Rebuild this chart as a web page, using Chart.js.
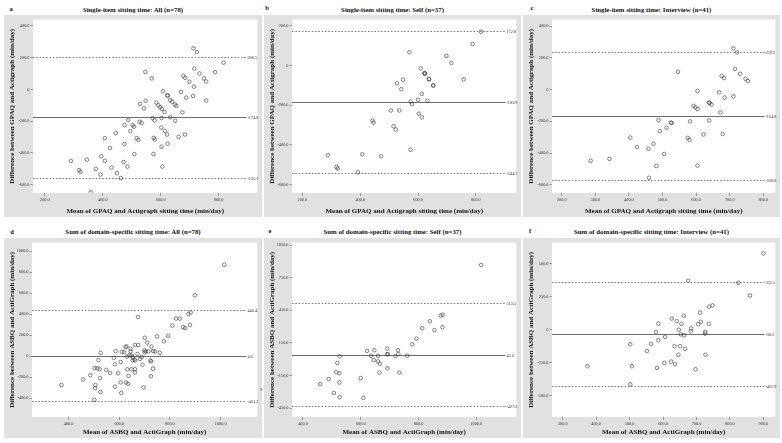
<!DOCTYPE html>
<html>
<head>
<meta charset="utf-8">
<script src="https://cdn.jsdelivr.net/npm/chart.js@4.4.1/dist/chart.umd.min.js"></script>
<style>
  html, body { margin: 0; padding: 0; background: #fff; }
  body { width: 782px; height: 443px; position: relative; overflow: hidden; font-family: "Liberation Serif", serif; color: #111; }
  .title { position: absolute; font-weight: bold; font-size: 6.8px; white-space: nowrap; transform: translate(-50%, -50%); }
  .letter { position: absolute; font-weight: bold; font-size: 6.5px; transform: translate(-50%, -50%); }
  canvas { position: absolute; }
</style>
</head>
<body>
<script>
// Titel och axeltexter
const titles = [
  'Single-item sitting time: All (n=78)',
  'Single-item sitting time: Self (n=37)',
  'Single-item sitting time: Interview (n=41)',
  'Sum of domain-specific sitting time: All (n=78)',
  'Sum of domain-specific sitting time: Self (n=37)',
  'Sum of domain-specific sitting time: Interview (n=41)'
];
const letters = ['a', 'b', 'c', 'd', 'e', 'f'];
const gpaqXTitle = 'Mean of GPAQ and Actigraph sitting time (min/day)';
const gpaqYTitle = 'Difference between GPAQ and Actigraph (min/day)';
const asbqXTitle = 'Mean of ASBQ and ActiGraph (min/day)';
const asbqYTitle = 'Difference between ASBQ and ActiGraph (min/day)';

// Skalstreck
const abXTicks = [200, 400, 600, 800];
const cXTicks = [200, 300, 400, 500, 600, 700, 800];
const deXTicks = [400, 600, 800, 1000];
const fXTicks = [300, 400, 500, 600, 700, 800, 900];
const acYTicks = [400, 200, 0, -200, -400, -600];
const bYTicks = [200, 0, -200, -400, -600];
const dYTicks = [1000, 800, 600, 400, 200, 0, -200, -400];
const eYTicks = [1050, 750, 450, 150, -150, -450];
const fYTicks = [500, 250, 0, -250, -500];

// Medelvärde (övre gräns, medel, undre gräns)
const aLines = [206.5, -174.8, -556.1];
const bLines = [172.8, -183.9, -544.7];
const cLines = [239.2, -164.8, -568.8];
const dLines = [440.4, 4.6, -431.2];
const eLines = [513.5, 43.2, -427.2];
const fLines = [365.5, -30.2, -425.9];

// a: GPAQ, alla
const aMean = [713, 725, 817, 547, 569, 716, 734, 788, 678, 685, 699, 715, 749, 757, 608, 623, 624, 670, 712, 688,
  757, 633, 640, 649, 654, 548, 529, 585, 592, 598, 604, 542,
  675, 613, 488, 527, 603, 572, 579, 633, 650, 475, 503, 508, 495, 534, 602, 614, 622, 576, 580, 517,
  523, 445, 407, 662, 684, 603, 624, 475, 425, 509, 575, 395, 407, 290, 345, 472, 485, 606, 430, 376,
  318, 323, 392, 449, 462, 358];
const aDiff = [258, 235, 168, 110, 69, 131, 100, 108, 86, 73, 48, 17, 69, 50, -12, -37, -40, -16, -41, -52,
  -70, -68, -78, -95, -104, -72, -91, -83, -100, -112, -123, -120,
  -145, -143, -193, -204, -180, -182, -195, -176, -197, -224, -226, -235, -263, -211, -240, -261, -284, -305, -315, -307,
  -318, -276, -307, -299, -284, -361, -342, -344, -369, -407, -407, -421, -450, -450, -442, -457, -486, -486, -492, -500,
  -508, -519, -536, -527, -558, -648];

// b: GPAQ, själv
const bMean = [818, 789, 570, 698, 715, 609, 623, 624, 637, 638, 652, 653, 758, 548, 527, 542, 613, 574, 579, 600,
  632, 506, 535, 603, 613, 442, 446, 515, 523, 574, 288, 407, 472, 318, 322, 392, 622];
const bDiff = [170, 108, 66, 48, 13, -15, -40, -42, -68, -70, -100, -102, -70, -72, -90, -120, -143, -182, -195, -173,
  -178, -227, -227, -243, -262, -278, -288, -307, -323, -425, -452, -448, -458, -512, -520, -538, -38];

// c: GPAQ, intervju
const cMean = [711, 722, 716, 731, 546, 676, 683, 747, 754, 604, 669, 685, 711, 638, 640, 646, 592, 598, 604, 672,
  488, 582, 639, 525, 527, 512, 492, 622, 679, 404, 575, 580, 473, 424, 458, 505, 286, 342, 482, 604, 460];
const cDiff = [260, 235, 131, 100, 112, 87, 73, 69, 54, -8, -17, -50, -42, -81, -84, -94, -102, -112, -123, -144,
  -192, -200, -194, -208, -210, -240, -262, -283, -279, -302, -304, -317, -342, -362, -373, -406, -448, -437, -481, -479, -556];

// d: ASBQ, alla
const dMean = [1014, 898, 674, 824, 839, 873, 882, 810, 852, 860, 879, 793, 776, 749, 701, 710, 675, 727, 625, 629,
  662, 586, 645, 645, 700, 705, 715, 734, 741, 760, 527, 518, 579, 647, 653, 660, 663, 630, 640, 689,
  723, 726, 692, 606, 583, 503, 514, 523, 486, 458, 549, 564, 596, 632, 648, 662, 662, 637, 733, 725,
  524, 583, 606, 627, 634, 372, 506, 505, 526, 608, 696, 502, 620, 672, 700, 653, 610, 682];
const dDiff = [870, 579, 372, 357, 357, 401, 416, 291, 275, 266, 297, 194, 141, 188, 175, 128, 106, 91, 88, 91,
  106, 47, 70, 45, 55, 45, 45, 48, 44, 31, 31, -38, -16, 6, -9, -31, -41, -5, 10, -9,
  -41, -50, -81, -56, -78, -113, -116, -125, -181, -222, -131, -160, -163, -125, -125, -125, -155, -188, -119, -191,
  -210, -291, -250, -250, -263, -275, -275, -305, -341, -350, -297, -416, 38, 20, 35, -40, 40, -27];

// e: ASBQ, själv
const eMean = [1017, 877, 884, 839, 883, 813, 855, 793, 778, 692, 622, 647, 691, 694, 729, 730, 636, 660, 720, 761,
  527, 645, 660, 666, 519, 692, 665, 734, 515, 526, 489, 600, 460, 526, 507, 527, 609];
const eDiff = [868, 401, 410, 350, 295, 286, 268, 189, 138, 98, 77, 83, 47, 45, 83, 47, 32, 32, 29, 32,
  26, -8, -20, -41, -35, -83, -123, -123, -120, -129, -183, -174, -229, -214, -311, -350, -356];

// f: ASBQ, intervju
const fMean = [900, 825, 675, 860, 738, 748, 711, 662, 626, 641, 655, 586, 713, 705, 737, 684, 647, 683, 579, 653,
  663, 726, 726, 606, 586, 502, 564, 552, 634, 651, 666, 646, 727, 604, 624, 636, 374, 507, 582, 697, 502];
const fDiff = [580, 357, 372, 260, 175, 185, 130, 107, 85, 65, 45, 47, 60, 42, 45, 10, 0, -12, -17, -35,
  -42, -17, -30, -55, -80, -110, -107, -162, -125, -125, -145, -190, -190, -252, -242, -262, -277, -277, -290, -300, -415];

Chart.defaults.font.family = '"Liberation Serif", serif';
Chart.defaults.color = '#222';

/**
 * Grå ram, vit plotyta och referenslinjer med etiketter
 */
const framePlugin = {
  id: 'frame',
  beforeDraw(chart) {
    const { ctx, chartArea: a } = chart;
    ctx.save();
    ctx.fillStyle = '#e1e1e1';
    ctx.fillRect(0, 0, chart.width, chart.height);
    ctx.fillStyle = '#ffffff';
    ctx.fillRect(a.left, a.top, a.right - a.left, a.bottom - a.top);
    ctx.restore();
  },
  beforeDatasetsDraw(chart, args, opts) {
    const { ctx, chartArea: a, scales: { y } } = chart;
    ctx.save();
    opts.lines.forEach((v, i) => {
      const py = Math.round(y.getPixelForValue(v)) + 0.5;
      ctx.beginPath();
      if (i === 1) {
        ctx.strokeStyle = '#6e6e6e';
        ctx.lineWidth = 1;
        ctx.setLineDash([]);
      } else {
        ctx.strokeStyle = '#555';
        ctx.lineWidth = 0.8;
        ctx.setLineDash([1.5, 1.8]);
      }
      ctx.moveTo(a.left, py);
      ctx.lineTo(a.right - 11, py);
      ctx.stroke();
      ctx.setLineDash([]);
      ctx.fillStyle = '#333';
      ctx.font = '4.3px "Liberation Serif"';
      ctx.textAlign = 'left';
      ctx.textBaseline = 'middle';
      ctx.fillText(v.toFixed(1), a.right - 10, py);
    });
    ctx.restore();
  }
};

const fmt = v => v === 0 ? '0' : v.toFixed(1);

// Placering: box = [left, top, width, height], inner = [yAxisWidth, padTop, padRight, xAxisHeight]
const panels = [
  { mean: aMean, diff: aDiff, lines: aLines, xTicks: abXTicks, yTicks: acYTicks, xr: [159, 934], yr: [-652, 439],
    xTitle: gpaqXTitle, yTitle: gpaqYTitle, box: [4, 15, 258, 202], inner: [29, 3, 4, 24] },
  { mean: bMean, diff: bDiff, lines: bLines, xTicks: abXTicks, yTicks: bYTicks, xr: [164, 940], yr: [-643, 231],
    xTitle: gpaqXTitle, yTitle: gpaqYTitle, box: [264, 15, 257, 202], inner: [28, 3, 3, 24] },
  { mean: cMean, diff: cDiff, lines: cLines, xTicks: cXTicks, yTicks: acYTicks, xr: [171, 836], yr: [-652, 442],
    xTitle: gpaqXTitle, yTitle: gpaqYTitle, box: [523, 15, 257, 202], inner: [29, 3, 2, 24] },
  { mean: dMean, diff: dDiff, lines: dLines, xTicks: deXTicks, yTicks: dYTicks, xr: [256, 1145], yr: [-579, 1080],
    xTitle: asbqXTitle, yTitle: asbqYTitle, box: [4, 238, 258, 200], inner: [28, 2, 4, 21] },
  { mean: eMean, diff: eDiff, lines: eLines, xTicks: deXTicks, yTicks: eYTicks, xr: [362, 1139], yr: [-532, 1074],
    xTitle: asbqXTitle, yTitle: asbqYTitle, box: [264, 238, 257, 200], inner: [28, 2, 3, 21] },
  { mean: fMean, diff: fDiff, lines: fLines, xTicks: fXTicks, yTicks: fYTicks, xr: [268, 936], yr: [-663, 662],
    xTitle: asbqXTitle, yTitle: asbqYTitle, box: [523, 238, 257, 200], inner: [29, 2, 2, 21] }
];

const letterPos = [[11, 8], [267, 7], [532, 7], [12, 231], [270, 230], [530, 230]];

panels.forEach((p, i) => {
  const [left, top, w, h] = p.box;
  const [yw, pt, pr, xh] = p.inner;

  const t = document.createElement('div');
  t.className = 'title';
  t.textContent = titles[i];
  t.style.left = (left + w / 2) + 'px';
  t.style.top = (i < 3 ? 9 : 231) + 'px';
  document.body.appendChild(t);

  const l = document.createElement('div');
  l.className = 'letter';
  l.textContent = letters[i];
  l.style.left = letterPos[i][0] + 'px';
  l.style.top = letterPos[i][1] + 'px';
  document.body.appendChild(l);

  const canvas = document.createElement('canvas');
  canvas.width = w;
  canvas.height = h;
  canvas.style.left = left + 'px';
  canvas.style.top = top + 'px';
  canvas.style.width = w + 'px';
  canvas.style.height = h + 'px';
  document.body.appendChild(canvas);

  new Chart(canvas, {
    type: 'scatter',
    data: {
      datasets: [{
        data: p.mean.map((m, k) => ({ x: m, y: p.diff[k] })),
        pointStyle: 'circle',
        pointRadius: 1.8,
        pointBorderWidth: 0.6,
        borderColor: '#333',
        backgroundColor: 'rgba(0,0,0,0)'
      }]
    },
    options: {
      responsive: false,
      animation: false,
      devicePixelRatio: 1,
      layout: { padding: { top: pt, right: pr, left: 0, bottom: 0 } },
      plugins: {
        legend: { display: false },
        tooltip: { enabled: false },
        frame: { lines: p.lines }
      },
      scales: {
        x: {
          type: 'linear',
          min: p.xr[0],
          max: p.xr[1],
          afterBuildTicks: s => { s.ticks = p.xTicks.map(v => ({ value: v })); },
          afterFit: s => { s.height = xh; },
          ticks: { font: { size: 4.3 }, color: '#333', padding: 1, maxRotation: 0, autoSkip: false, callback: fmt },
          grid: { drawOnChartArea: false, tickLength: 3, color: '#666', lineWidth: 0.6 },
          border: { display: false },
          title: { display: true, text: p.xTitle, font: { size: 7, weight: 'bold' }, color: '#111', padding: { top: 0, bottom: 2 } }
        },
        y: {
          type: 'linear',
          min: p.yr[0],
          max: p.yr[1],
          afterBuildTicks: s => { s.ticks = p.yTicks.map(v => ({ value: v })); },
          afterFit: s => { s.width = yw; },
          ticks: { font: { size: 4.3 }, color: '#333', padding: 1, autoSkip: false, callback: fmt },
          grid: { drawOnChartArea: false, tickLength: 2.5, color: '#666', lineWidth: 0.6 },
          border: { display: false },
          title: { display: true, text: p.yTitle, font: { size: 7, weight: 'bold' }, color: '#111', padding: { top: 3.5, bottom: 0 } }
        }
      }
    },
    plugins: [framePlugin]
  });
});

// Litet fristående tecken mellan d och e
const mark = document.createElement('div');
mark.className = 'letter';
mark.style.fontWeight = 'normal';
mark.style.fontSize = '5px';
mark.textContent = 'I';
mark.style.left = '261px';
mark.style.top = '389px';
document.body.appendChild(mark);
</script>
</body>
</html>
